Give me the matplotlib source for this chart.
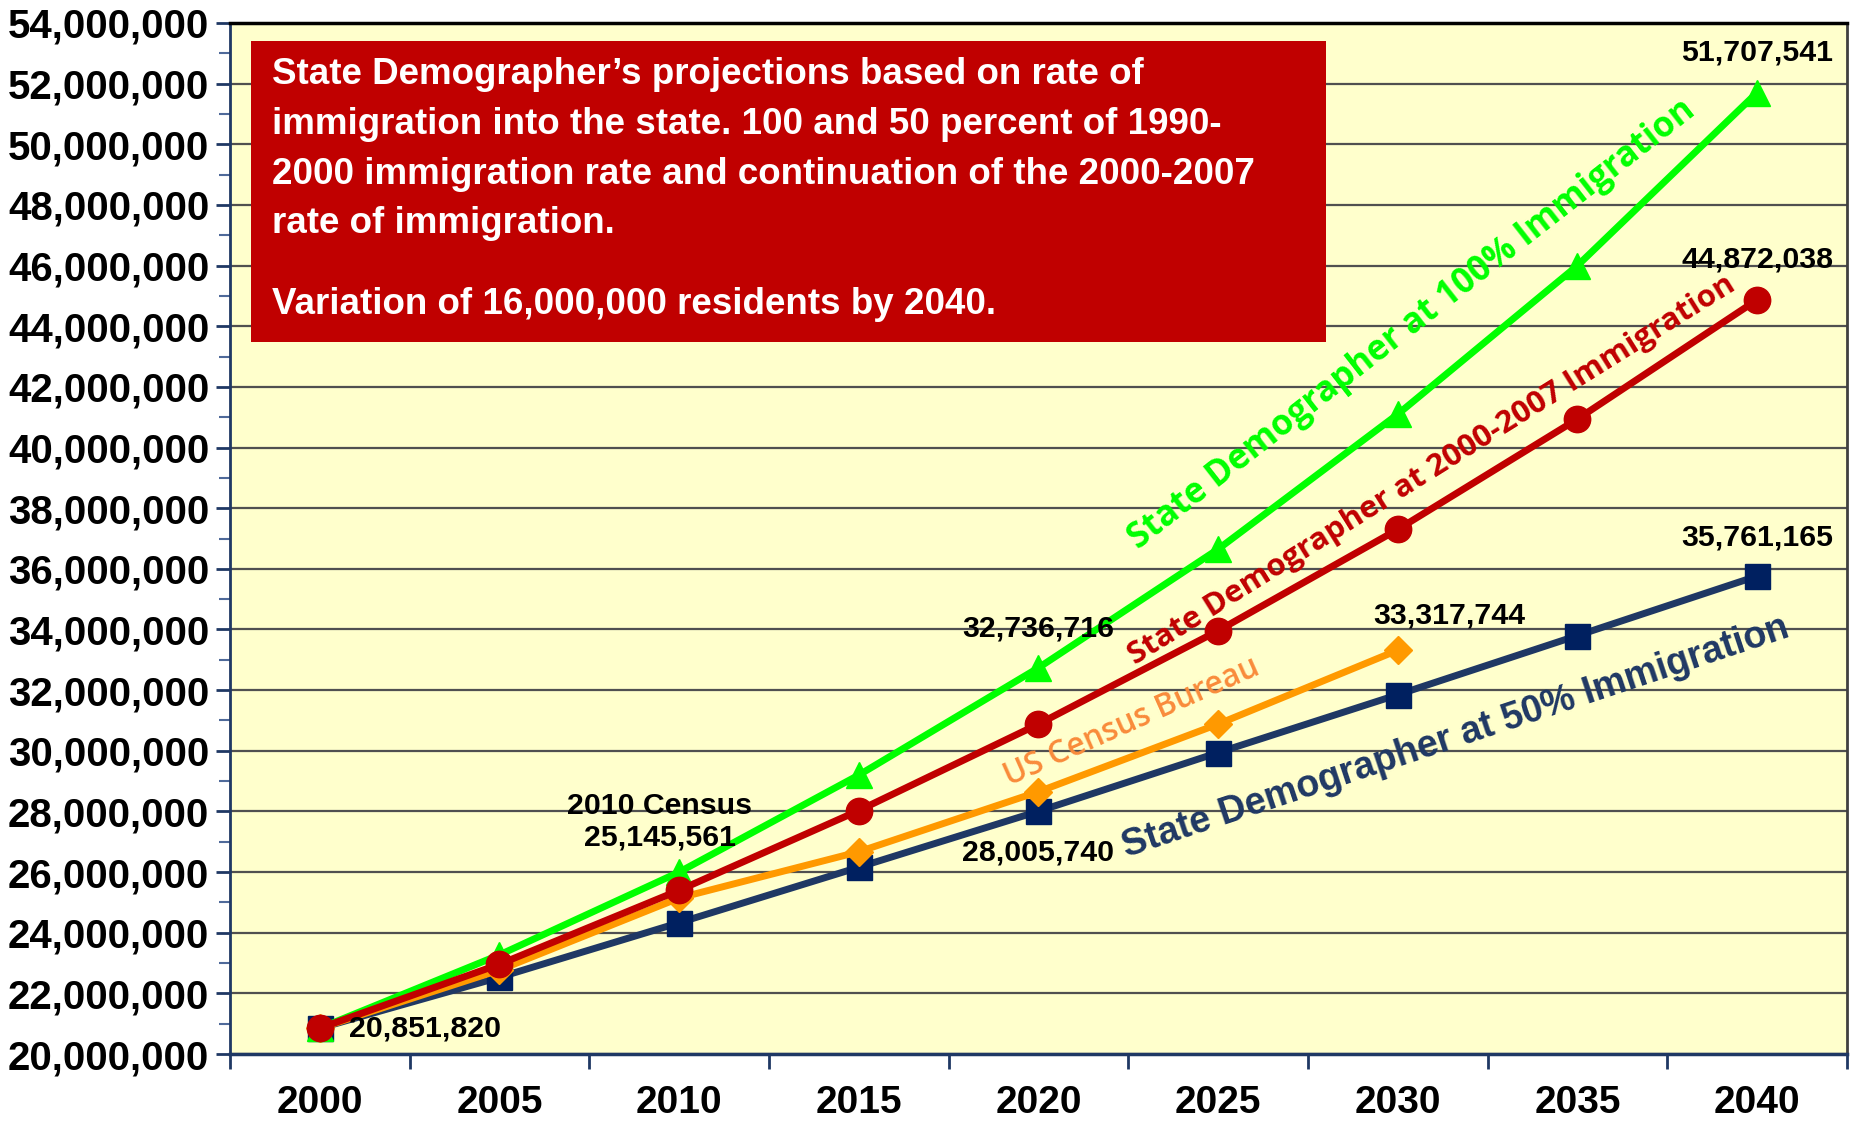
import matplotlib
matplotlib.use("Agg")
import matplotlib.pyplot as plt
from matplotlib.ticker import FuncFormatter, MultipleLocator, FixedLocator
from matplotlib.patches import Rectangle

plt.rcParams['font.family'] = ['Liberation Sans', 'DejaVu Sans']

years = ['2000', '2005', '2010', '2015', '2020', '2025', '2030', '2035', '2040']
sd100 = [20851820, 23270000, 26000000, 29200000, 32736716, 36650000, 41100000, 46000000, 51707541]
sd0007 = [20851820, 22960000, 25400000, 28030000, 30880000, 33960000, 37300000, 40940000, 44872038]
census = [20851820, 22770000, 25145561, 26670000, 28650000, 30880000, 33317744]
sd50 = [20851820, 22530000, 24330000, 26160000, 28005740, 29940000, 31850000, 33800000, 35761165]

box_lines = [
    "State Demographer\u2019s projections based on rate of",
    "immigration into the state. 100 and 50 percent of 1990-",
    "2000 immigration rate and continuation of the 2000-2007",
    "rate of immigration.",
    "Variation of 16,000,000 residents by 2040.",
]

fig = plt.figure(figsize=(18.53, 11.24), dpi=100)
ax = fig.add_axes([230/1853, 70/1124, 1617/1853, 1031/1124])
ax.set_facecolor('#FFFFCC')

x = list(range(len(years)))
ax.plot(x[:len(sd50)], sd50, color='#1F3864', lw=5, marker='s', ms=18,
        mfc='#002060', mec='#002060', zorder=3)
ax.plot(x[:len(census)], census, color='#FF9900', lw=5, marker='D', ms=14,
        mfc='#FF9900', mec='#FF9900', zorder=4)
ax.plot(x[:len(sd100)], sd100, color='#00FF00', lw=5, marker='^', ms=19,
        mfc='#00FF00', mec='#00FF00', zorder=5)
ax.plot(x[:len(sd0007)], sd0007, color='#C00000', lw=5, marker='o', ms=19,
        mfc='#C00000', mec='#C00000', zorder=6)

ax.set_xlim(-0.5, 8.5)
ax.set_ylim(20000000, 54000000)

ax.yaxis.set_major_locator(MultipleLocator(2000000))
ax.yaxis.set_minor_locator(MultipleLocator(1000000))
ax.yaxis.set_major_formatter(FuncFormatter(lambda v, p: f"{int(v):,}"))
ax.tick_params(axis='y', which='major', direction='out', length=10, width=2,
               color='#1F3864', labelsize=29, pad=5)
ax.tick_params(axis='y', which='minor', direction='out', length=8, width=1.5,
               color='#4F6A9A')
for lbl in ax.get_yticklabels():
    lbl.set_fontweight('bold')

ax.xaxis.set_major_locator(FixedLocator(x))
ax.set_xticklabels(years, fontsize=28, fontweight='bold')
ax.xaxis.set_minor_locator(FixedLocator([i - 0.5 for i in range(len(years) + 1)]))
ax.tick_params(axis='x', which='major', length=0, pad=22)
ax.tick_params(axis='x', which='minor', direction='out', length=11, width=2,
               color='#1F3864')

ax.grid(axis='y', which='major', color='#505050', lw=1.6, zorder=1)
ax.set_axisbelow(True)
ax.spines['left'].set_color('#1F3864')
ax.spines['left'].set_linewidth(2)
ax.spines['bottom'].set_color('#1F3864')
ax.spines['bottom'].set_linewidth(2.5)
ax.spines['top'].set_color('black')
ax.spines['top'].set_linewidth(2.5)
ax.spines['right'].set_color('#404040')
ax.spines['right'].set_linewidth(2)

# red annotation box
ax.add_patch(Rectangle((0.013, 0.6906), 0.665, 0.2919, transform=ax.transAxes,
                       facecolor='#C00000', edgecolor='none', zorder=7))
line_y = [0.9505, 0.902, 0.8535, 0.806, 0.7274]
for t, yy in zip(box_lines, line_y):
    ax.text(0.026, yy, t, transform=ax.transAxes, color='white', fontsize=26.5,
            fontweight='bold', ha='left', va='center', zorder=8)

# data labels
lab_kw = dict(textcoords='offset points', fontsize=21.8, fontweight='bold',
              ha='center', va='center', zorder=9)
ax.annotate(f"{sd100[8]:,}", (8, sd100[8]), xytext=(0, 29), **lab_kw)
ax.annotate(f"{sd0007[8]:,}", (8, sd0007[8]), xytext=(0, 29), **lab_kw)
ax.annotate(f"{sd50[8]:,}", (8, sd50[8]), xytext=(0, 28), **lab_kw)
ax.annotate(f"{census[6]:,}", (6, census[6]), xytext=(37, 25), **lab_kw)
ax.annotate(f"{sd100[4]:,}", (4, sd100[4]), xytext=(0, 28), **lab_kw)
ax.annotate(f"{sd50[4]:,}", (4, sd50[4]), xytext=(0, -30), **lab_kw)
ax.annotate(f"2010 Census\n{census[2]:,}", (2, census[2]), xytext=(-14, 55),
            linespacing=1.15, **lab_kw)
ax.annotate(f"{sd100[0]:,}", (0, sd100[0]), xytext=(21, 0),
            textcoords='offset points', fontsize=21.8, fontweight='bold',
            ha='left', va='center', zorder=9)

# series labels
ax.text(6.08, 44040000, "State Demographer at 100% Immigration", color='#00FF00',
        fontsize=25, fontweight='bold', family=['Open Sans', 'DejaVu Sans'],
        rotation=38, rotation_mode='anchor', ha='center', va='center', zorder=9)
ax.text(6.19, 39260000, "State Demographer at 2000-2007 Immigration", color='#C00000',
        fontsize=22.5, fontweight='bold', family=['Open Sans', 'DejaVu Sans'],
        rotation=32, rotation_mode='anchor', ha='center', va='center', zorder=9)
ax.text(4.52, 30950000, "US Census Bureau", color='#F98B3A',
        fontsize=22.7, fontweight='semibold', family=['Open Sans', 'DejaVu Sans'],
        rotation=24, rotation_mode='anchor', ha='center', va='center', zorder=9)
ax.text(6.32, 30450000, "State Demographer at 50% Immigration", color='#1F3864',
        fontsize=27, fontweight='bold',
        rotation=18.4, rotation_mode='anchor', ha='center', va='center', zorder=9)

fig.savefig('out.png', dpi=100, facecolor='white')
